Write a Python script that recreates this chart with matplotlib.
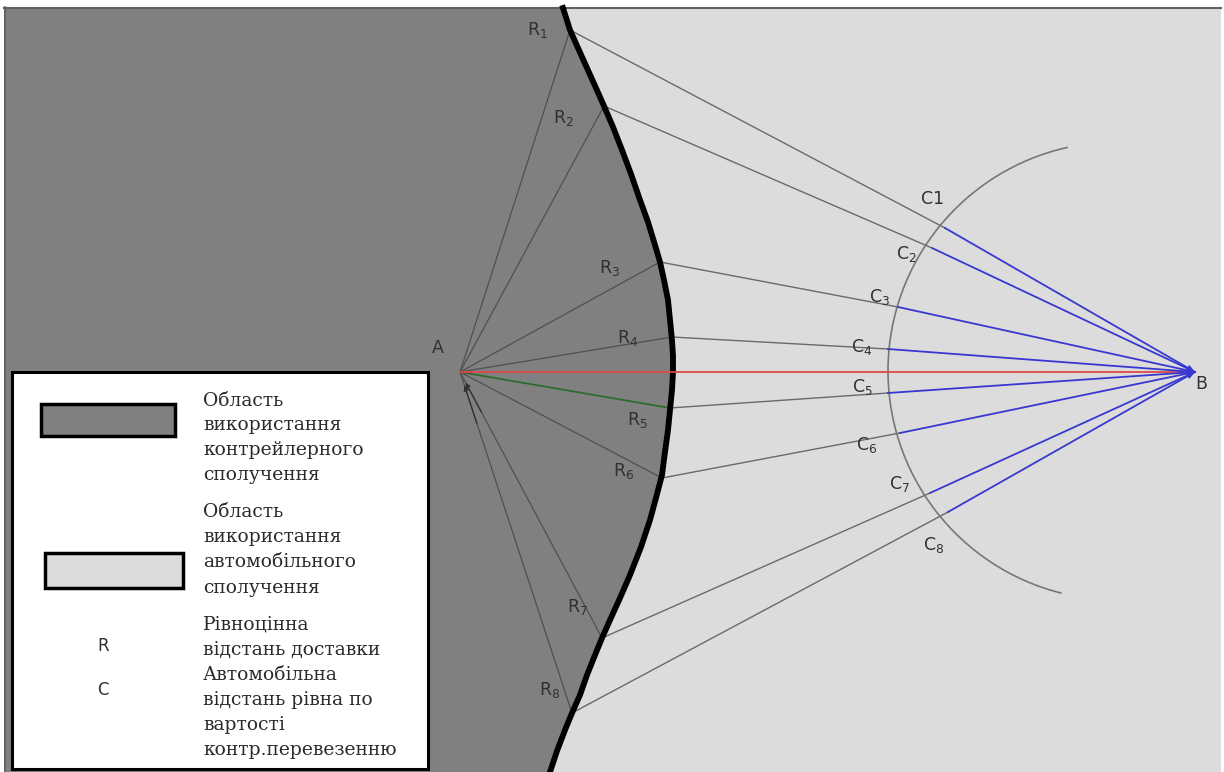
import numpy as np
from matplotlib import pyplot as plt
from matplotlib.patches import Rectangle, Polygon, Arc

# Points of the scheme (picture coordinates, y grows downwards)
A = (460, 372)
B = (1195, 372)

# Boundary between the two areas (thick black curve), top to bottom
boundary_x = [563, 570, 578, 587, 596, 604, 613, 622, 631, 640, 648, 655, 660, 664, 668, 670, 672, 673, 673,
              672, 670, 668, 665, 662, 656, 650, 641, 630, 620, 610, 602, 595, 587, 580, 572, 565, 557, 550]
boundary_y = [8, 30, 48, 68, 88, 106, 127, 150, 174, 200, 222, 245, 262, 280, 300, 320, 340, 356, 372,
              390, 410, 430, 452, 475, 498, 520, 547, 575, 598, 620, 638, 655, 675, 695, 713, 730, 751, 772]

# Equal-cost delivery points R1..R8 on the boundary
r_names = ['1', '2', '3', '4', '5', '6', '7', '8']
r_x = [570, 604, 660, 672, 670, 662, 602, 572]
r_y = [30, 106, 262, 337, 408, 478, 638, 713]
r_label_x = [537, 563, 609, 628, 637, 624, 577, 550]
r_label_y = [30, 118, 268, 338, 420, 471, 607, 690]

# Points C1..C8 on the arc around B
c_x = [945, 932, 898, 888, 888, 900, 930, 948]
c_y = [228, 248, 307, 349, 393, 433, 493, 512]
c_label_x = [933, 906, 880, 862, 862, 867, 899, 934]
c_label_y = [199, 254, 297, 347, 387, 445, 484, 545]

# Arc of the C points
arc_center = (1117, 371)
arc_radius = 229
arc_theta = (104, 257.6)

legend_lines = ['Область', 'використання', 'контрейлерного', 'сполучення',
                'Область', 'використання', 'автомобільного', 'сполучення',
                'Рівноцінна', 'відстань доставки',
                'Автомобільна', 'відстань рівна по', 'вартості', 'контр.перевезенню']
legend_line_y = [401, 425, 450, 475, 512, 537, 562, 588, 625, 650, 675, 700, 725, 750]

DARK = '#808080'
LIGHT = '#dcdcdc'

fig = plt.figure(figsize=(12.24, 7.72), dpi=100)
ax = fig.add_axes([0, 0, 1, 1])
ax.set_xlim(0, 1224)
ax.set_ylim(772, 0)
ax.axis('off')

# Areas
ax.add_patch(Rectangle((4, 7), 1217, 770, facecolor=LIGHT, edgecolor='none', zorder=0))
dark_pts = [(4, 7)] + list(zip(boundary_x, boundary_y)) + [(4, 772)]
ax.add_patch(Polygon(dark_pts, closed=True, facecolor=DARK, edgecolor='none', zorder=1))
ax.plot([4, 1221], [7.5, 7.5], color='#606060', lw=1.5, zorder=2)
ax.plot([4.5, 4.5], [7, 772], color='#606060', lw=1.2, zorder=2)

# Lines A -> R
for i in range(len(r_x)):
    col = '#2e6b2e' if i == 4 else '#505050'
    lw = 1.3 if i == 4 else 0.9
    ax.plot([A[0], r_x[i]], [A[1], r_y[i]], color=col, lw=lw, zorder=3)

# small arrow heads near A
for i in (6, 7):
    ax.annotate('', xy=(A[0] + (r_x[i] - A[0]) * 0.04, A[1] + (r_y[i] - A[1]) * 0.04),
                xytext=(A[0] + (r_x[i] - A[0]) * 0.15, A[1] + (r_y[i] - A[1]) * 0.15),
                arrowprops=dict(arrowstyle='-|>', color='#303030', lw=0.9, mutation_scale=7,
                                shrinkA=0, shrinkB=0), zorder=3)

# Boundary curve
ax.plot(boundary_x, boundary_y, color='black', lw=4.2, solid_joinstyle='round', zorder=4)

# Lines R -> C
for i in range(len(r_x)):
    ax.plot([r_x[i], c_x[i]], [r_y[i], c_y[i]], color='#6a6a6a', lw=1.0, zorder=3)

# Arc
ax.add_patch(Arc(arc_center, 2 * arc_radius, 2 * arc_radius, theta1=arc_theta[0], theta2=arc_theta[1],
                 color='#777777', lw=1.2, zorder=3))

# Red line A -> B
ax.plot([A[0], B[0]], [A[1], B[1]], color='#e04848', lw=1.3, zorder=5)

# Blue lines C -> B
for i in range(len(c_x)):
    if i in (1, 6):
        ax.annotate('', xy=B, xytext=(c_x[i], c_y[i]),
                    arrowprops=dict(arrowstyle='-|>', color='#3838d0', lw=1.3, mutation_scale=10,
                                    shrinkA=0, shrinkB=0), zorder=5)
    else:
        ax.plot([c_x[i], B[0]], [c_y[i], B[1]], color='#3838d0', lw=1.3, zorder=5)

# Labels
lab = dict(color='#303030', fontsize=12.5, ha='center', va='center', family='DejaVu Sans', zorder=6)
for i in range(len(r_x)):
    ax.text(r_label_x[i], r_label_y[i], r'$\mathregular{R_{%s}}$' % r_names[i], **lab)
for i in range(len(c_x)):
    if i == 0:
        ax.text(c_label_x[i], c_label_y[i], 'C1', **lab)
    else:
        ax.text(c_label_x[i], c_label_y[i], r'$\mathregular{C_{%s}}$' % r_names[i], **lab)
ax.text(438, 348, 'A', **lab)
ax.text(1201, 384, 'B', **lab)

# Legend box
ax.add_patch(Rectangle((12, 372), 416, 397, facecolor='white', edgecolor='black', lw=2.2, zorder=7))
ax.add_patch(Rectangle((41, 404), 134, 32, facecolor=DARK, edgecolor='black', lw=2.5, zorder=8))
ax.add_patch(Rectangle((45, 553), 138, 35, facecolor=LIGHT, edgecolor='black', lw=2.5, zorder=8))
ax.text(103, 646, 'R', color='#303030', fontsize=12, ha='center', va='center', zorder=8)
ax.text(103, 690, 'C', color='#303030', fontsize=12, ha='center', va='center', zorder=8)
for txt, y in zip(legend_lines, legend_line_y):
    ax.text(203, y, txt, color='#2a2a2a', fontsize=13.5, ha='left', va='center',
            family='DejaVu Serif', zorder=8, clip_on=True)

fig.savefig('out.png', dpi=100)
